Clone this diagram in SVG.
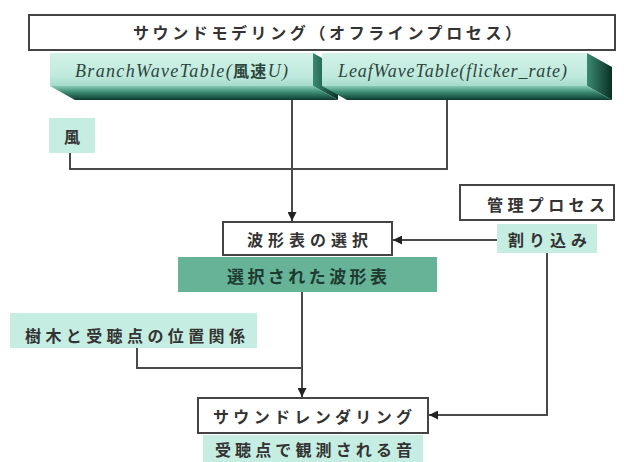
<svg xmlns="http://www.w3.org/2000/svg" width="624" height="462" viewBox="0 0 624 462">
<defs>
<linearGradient id="face" x1="0" y1="0" x2="0" y2="1"><stop offset="0" stop-color="#d3f2e8"/><stop offset="0.7" stop-color="#bfe9dc"/><stop offset="1" stop-color="#a5dccb"/></linearGradient>
<linearGradient id="bottom" x1="0" y1="0" x2="0" y2="1"><stop offset="0" stop-color="#86c9b3"/><stop offset="0.45" stop-color="#3b8a72"/><stop offset="1" stop-color="#0c3a2e"/></linearGradient>
<linearGradient id="side" x1="0" y1="0" x2="1" y2="0"><stop offset="0" stop-color="#3a8a71"/><stop offset="1" stop-color="#0a3026"/></linearGradient>
<marker id="arr" viewBox="0 0 10 10" refX="10" refY="5" markerWidth="9" markerHeight="9" markerUnits="userSpaceOnUse" orient="auto"><path d="M0,0 L10,5 L0,10 z" fill="#222"/></marker>
</defs>
<style>
.box{fill:#fff;stroke:#444;stroke-width:2}
.lt{fill:#c6ede1}
.dk{fill:#66b398}
.jp{font-family:"Noto Sans CJK JP","Noto Sans",sans-serif;font-size:16px;font-weight:bold;fill:#333}
.it{font-family:"Liberation Serif","Noto Sans CJK JP",serif;font-style:italic;font-size:18px;fill:#2c463d}
.cj{font-family:"Noto Sans CJK JP",sans-serif;font-style:normal;font-weight:bold;font-size:16px}
.ln{fill:none;stroke:#4a4a4a;stroke-width:2}
</style>

<g id="modeling">
<rect class="box" x="29" y="15" width="586" height="35"/>
<text class="jp" x="133" y="39" textLength="388" lengthAdjust="spacing">サウンドモデリング（オフラインプロセス）</text>
</g>

<g id="branch-table">
<polygon points="313,53 338,67 338,100 313,86" fill="url(#side)"/>
<polygon points="50,86 313,86 338,100 75,100" fill="url(#bottom)"/>
<rect x="50" y="53" width="263" height="33" fill="url(#face)"/>
<text class="it" x="75" y="77" textLength="213" lengthAdjust="spacing">BranchWaveTable(<tspan class="cj">風速</tspan>U)</text>
</g>

<g id="leaf-table">
<polygon points="587,53 612,67 612,100 587,86" fill="url(#side)"/>
<polygon points="322,86 587,86 612,100 347,100" fill="url(#bottom)"/>
<rect x="322" y="53" width="265" height="33" fill="url(#face)"/>
<text class="it" x="338" y="77" textLength="229" lengthAdjust="spacing">LeafWaveTable(flicker_rate)</text>
</g>

<g id="wind">
<rect class="lt" x="49" y="118" width="46" height="35"/>
<text class="jp" x="72" y="143" text-anchor="middle">風</text>
</g>

<g id="manager">
<rect class="box" x="460" y="185" width="154" height="35"/>
<text class="jp" x="487" y="211" textLength="118" lengthAdjust="spacing">管理プロセス</text>
</g>

<g id="interrupt">
<rect class="lt" x="497" y="224" width="100" height="29"/>
<text class="jp" x="508" y="246" textLength="79" lengthAdjust="spacing">割り込み</text>
</g>

<g id="select">
<rect class="box" x="223" y="222" width="169" height="33"/>
<text class="jp" x="247" y="246" textLength="121" lengthAdjust="spacing">波形表の選択</text>
</g>

<g id="selected">
<rect class="dk" x="178" y="257" width="259" height="35"/>
<text class="jp" x="227" y="283" textLength="160" lengthAdjust="spacing" style="fill:#1f3a30;font-size:17px">選択された波形表</text>
</g>

<g id="position">
<rect class="lt" x="10" y="313" width="247" height="35"/>
<text class="jp" x="25" y="342" textLength="220" lengthAdjust="spacing">樹木と受聴点の位置関係</text>
</g>

<g id="rendering">
<rect class="box" x="198" y="398" width="230" height="35"/>
<text class="jp" x="213" y="423" textLength="199" lengthAdjust="spacing">サウンドレンダリング</text>
</g>

<g id="heard">
<rect class="lt" x="203" y="435" width="220" height="27"/>
<text class="jp" x="215" y="456" textLength="197" lengthAdjust="spacing">受聴点で観測される音</text>
</g>

<g id="connectors">
<path class="ln" d="M70,153 V169 H447 V100"/>
<path class="ln" d="M292,100 V221" marker-end="url(#arr)"/>
<path class="ln" d="M497,240 H393" marker-end="url(#arr)"/>
<path class="ln" d="M137,348 V368 H302"/>
<path class="ln" d="M302,292 V397" marker-end="url(#arr)"/>
<path class="ln" d="M547,253 V415 H429" marker-end="url(#arr)"/>
</g>
</svg>
